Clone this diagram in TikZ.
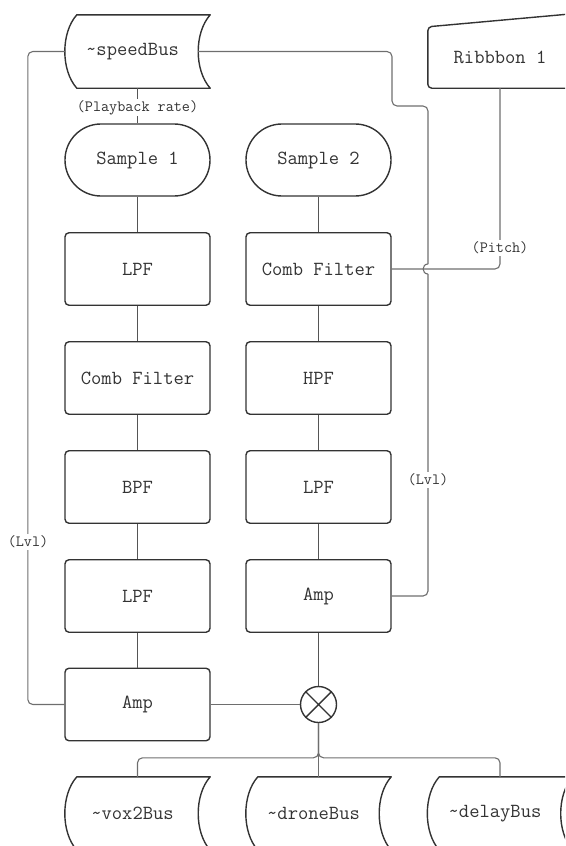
\documentclass[tikz,border=0pt]{standalone}
\usetikzlibrary{calc}
\definecolor{ink}{HTML}{333333}
\definecolor{wirec}{HTML}{6E6E6E}
\definecolor{linkc}{HTML}{555555}
\newcommand\mybigfont{\fontsize{20}{22}\selectfont\ttfamily}
\newcommand\mysmallfont{\fontsize{15.7}{17}\selectfont\ttfamily}
\tikzset{
  box/.style={draw=ink, line width=1.4pt, rounded corners=4pt, minimum width=145pt,
    minimum height=72.5pt, font=\mybigfont, text=ink, inner sep=0pt},
  pill/.style={box, rounded corners=35.9pt, minimum height=72pt},
  bus/.style={minimum width=145pt, minimum height=73pt, font=\mybigfont, text=ink, inner sep=0pt},
  busline/.style={draw=ink, line width=1.4pt, line join=round},
  wire/.style={draw=wirec, line width=1.1pt, rounded corners=5pt},
  link/.style={draw=linkc, line width=0.9pt},
  lbl/.style={fill=white, font=\mysmallfont, text=ink, inner sep=1.5pt},
  mixer/.style={circle, draw=ink, line width=1.4pt, minimum size=36pt, inner sep=0pt},
}
\newcommand\storedshape[1]{%
  \draw[busline] ($(#1.north west)+(12,0)$) -- (#1.north east)
    .. controls ($(#1.north east)+(-16,18)$) and ($(#1.south east)+(-16,-18)$) .. (#1.south east)
    -- ($(#1.south west)+(12,0)$)
    .. controls ($(#1.south west)+(-4,-18)$) and ($(#1.north west)+(-4,18)$) .. ($(#1.north west)+(12,0)$)
    -- cycle;}
\begin{document}
\begin{tikzpicture}[x=1pt,y=-1pt]
\useasboundingbox (0,0) rectangle (565,846);
\clip (0,0) rectangle (565,846);

% top row
\node[bus] (speed) at (137.5,51.5) {\textasciitilde speedBus\kern10pt};
\storedshape{speed}
\node[bus, minimum width=144pt, minimum height=61pt] (ribbon) at (500,57.5) {Ribbbon 1};
\draw[busline, rounded corners=4pt] (ribbon.south west) -- (ribbon.north west)
  -- ($(ribbon.north east)+(0,-13)$) -- (ribbon.south east) -- cycle;

% column 1
\node[pill] (s1) at (137.5,160) {Sample 1};
\node[box] (lpf1) at (137.5,269) {LPF};
\node[box] (comb1) at (137.5,378) {Comb Filter};
\node[box] (bpf1) at (137.5,487) {BPF};
\node[box] (lpf1b) at (137.5,596) {LPF};
\node[box] (amp1) at (137.5,704.5) {Amp};

% column 2
\node[pill] (s2) at (318.5,160) {Sample 2};
\node[box] (comb2) at (318.5,269) {Comb Filter};
\node[box] (hpf2) at (318.5,378) {HPF};
\node[box] (lpf2) at (318.5,487) {LPF};
\node[box] (amp2) at (318.5,596) {Amp};

% mixer
\node[mixer] (mix) at (318.5,704.5) {};
\draw[ink, line width=1.4pt] (mix.45) -- (mix.225) (mix.135) -- (mix.315);

% bottom buses
\node[bus] (vox2) at (137.5,813.5) {\textasciitilde vox2Bus\kern10pt};
\storedshape{vox2}
\node[bus] (drone) at (318.5,813.5) {\textasciitilde droneBus\kern10pt};
\storedshape{drone}
\node[bus] (delay) at (500,813.5) {\textasciitilde delayBus\kern10pt};
\storedshape{delay}

% column links
\draw[link] (speed.south) -- (s1.north);
\draw[link] (s1.south) -- (lpf1.north);
\draw[link] (lpf1.south) -- (comb1.north);
\draw[link] (comb1.south) -- (bpf1.north);
\draw[link] (bpf1.south) -- (lpf1b.north);
\draw[link] (lpf1b.south) -- (amp1.north);
\draw[link] (s2.south) -- (comb2.north);
\draw[link] (comb2.south) -- (hpf2.north);
\draw[link] (hpf2.south) -- (lpf2.north);
\draw[link] (lpf2.south) -- (amp2.north);
\draw[link] (amp2.south) -- (mix.north);
\draw[wire] (amp1.east) -- (mix.west);

% level from speedBus (left)
\draw[wire] (speed.west) -- ++(-37,0) |- (amp1.west);

% level from speedBus (right) with jump
\coordinate (speedR) at ($(speed.east)+(-12,0)$);
\coordinate (jumpT) at (428,264);
\coordinate (jumpB) at (428,274);
\draw[wire] (speedR) -- (392,51.5) -- (392,106) -- (428,106) -- (jumpT);
\draw[wire] (jumpT) .. controls +(-6.5,0) and +(-6.5,0) .. (jumpB);
\draw[wire] (jumpB) |- (amp2.east);

% pitch from ribbon
\draw[wire] (ribbon.south) |- (comb2.east);

% outputs
\draw[wire] (mix.south) -- (drone.north);
\draw[wire] (mix.south) |- ($(vox2.north)+(0,-19)$) -- (vox2.north);
\draw[wire] (mix.south) |- ($(delay.north)+(0,-19)$) -- (delay.north);

% labels
\node[lbl] (lblPB) at (137.5,107.5) {(Playback rate)};
\node[lbl] (lblPitch) at (500,248) {(Pitch)};
\node[lbl] (lblLvlR) at (428,480) {(Lvl)};
\node[lbl] (lblLvlL) at (28,542) {(Lvl)};
\end{tikzpicture}
\end{document}
